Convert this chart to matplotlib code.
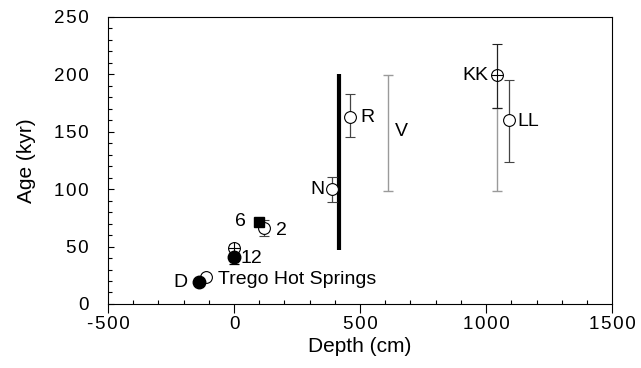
import matplotlib
matplotlib.use("Agg")
import matplotlib.pyplot as plt
from matplotlib.ticker import MultipleLocator, FuncFormatter

plt.rcParams['font.family'] = ['Liberation Sans', 'DejaVu Sans']
plt.rcParams['axes.unicode_minus'] = False

# Open-circle dated samples (depth cm, age kyr, lower/upper error)
open_names = ["Trego Hot Springs", "2", "N", "R", "LL"]
open_depth = [-110, 120, 390, 460, 1090]
open_age = [23.5, 66, 100, 163, 160]
open_err_lo = [3, 7, 11, 18, 36]
open_err_hi = [3, 7, 11, 20, 35]

# Crossed-circle samples
cross_depth = [0, 1045]
cross_age = [49, 199]
cross_err_lo = [3, 28]
cross_err_hi = [3, 27]

# Filled circles
filled_depth = [-140, 0]
filled_age = [19, 41]
filled_err_lo = [0, 6]
filled_err_hi = [0, 0]

# Filled square
square_depth = [100]
square_age = [71]

# Range-only ages (light bars)
range_depth = [610, 1045]
range_low = [98, 98]
range_high = [199, 171]

# Thick bar spanning the hiatus
thick_depth = 415
thick_low = 47
thick_high = 200


def spaced(v, pos):
    # widely tracked tick numerals
    return "\u200a".join(f"{v:g}")


fig = plt.figure(figsize=(6.41, 3.68), dpi=100)
ax = fig.add_axes([0.1685, 0.174, 0.7865, 0.78])

# light range bars
for d, lo, hi in zip(range_depth, range_low, range_high):
    ax.errorbar([d], [(lo + hi) / 2], yerr=[[(hi - lo) / 2], [(hi - lo) / 2]],
                fmt='none', ecolor='#9a9a9a', elinewidth=1.0, capsize=3.5, capthick=1.0)

# thick bar
ax.plot([thick_depth, thick_depth], [thick_low, thick_high], color='black', lw=3.0,
        solid_capstyle='butt')

ax.errorbar(open_depth, open_age, yerr=[open_err_lo, open_err_hi], fmt='o',
            mfc='white', mec='black', mew=0.8, ms=8.5, ecolor='#444444',
            elinewidth=0.9, capsize=3.5, capthick=0.9, zorder=3)
ax.errorbar(cross_depth, cross_age, yerr=[cross_err_lo, cross_err_hi], fmt='o',
            mfc='white', mec='black', mew=0.8, ms=8.5, ecolor='#222222',
            elinewidth=0.9, capsize=3.5, capthick=0.9, zorder=3)
ax.plot(cross_depth, cross_age, marker='+', ls='none', color='black', ms=8.5,
        mew=0.8, zorder=4)
ax.errorbar(filled_depth, filled_age, yerr=[filled_err_lo, filled_err_hi], fmt='o',
            mfc='black', mec='black', ms=9, ecolor='black', elinewidth=0.9,
            capsize=3.5, capthick=0.9, zorder=4)
ax.plot(square_depth, square_age, marker='s', ls='none', color='black', ms=7.5, zorder=4)

fs = 14
ax.text(-185, 19, "D", fontsize=fs, ha='right', va='center')
ax.text(-62, 21, "Trego Hot Springs", fontsize=fs, ha='left', va='center')
ax.text(25, 40, "12", fontsize=fs, ha='left', va='center')
ax.text(45, 72, "6", fontsize=fs, ha='right', va='center')
ax.text(168, 64, "2", fontsize=fs, ha='left', va='center')
ax.text(360, 100, "N", fontsize=fs, ha='right', va='center')
ax.text(500, 162, "R", fontsize=fs, ha='left', va='center')
ax.text(640, 150, "V", fontsize=fs, ha='left', va='center')
ax.text(1008, 199, "KK", fontsize=fs, ha='right', va='center')
ax.text(1125, 159, "LL", fontsize=fs, ha='left', va='center')

ax.set_xlim(-500, 1500)
ax.set_ylim(0, 250)
ax.xaxis.set_major_locator(MultipleLocator(500))
ax.xaxis.set_minor_locator(MultipleLocator(100))
ax.yaxis.set_major_locator(MultipleLocator(50))
ax.yaxis.set_minor_locator(MultipleLocator(10))
ax.xaxis.set_major_formatter(FuncFormatter(spaced))
ax.yaxis.set_major_formatter(FuncFormatter(spaced))
ax.tick_params(axis='x', which='major', direction='out', length=6.5, width=0.8,
               labelsize=13.5, pad=2)
ax.tick_params(axis='x', which='minor', direction='in', length=3, width=0.8)
ax.tick_params(axis='y', which='major', direction='in', length=4, width=0.8,
               labelsize=13.5, pad=14)
ax.tick_params(axis='y', which='minor', direction='in', length=3, width=0.8)
for s in ax.spines.values():
    s.set_linewidth(0.8)

ax.set_xlabel("Depth (cm)", fontsize=15, labelpad=3)
ax.set_ylabel("Age (kyr)", fontsize=15, labelpad=13)

fig.savefig("out.png", dpi=100)
